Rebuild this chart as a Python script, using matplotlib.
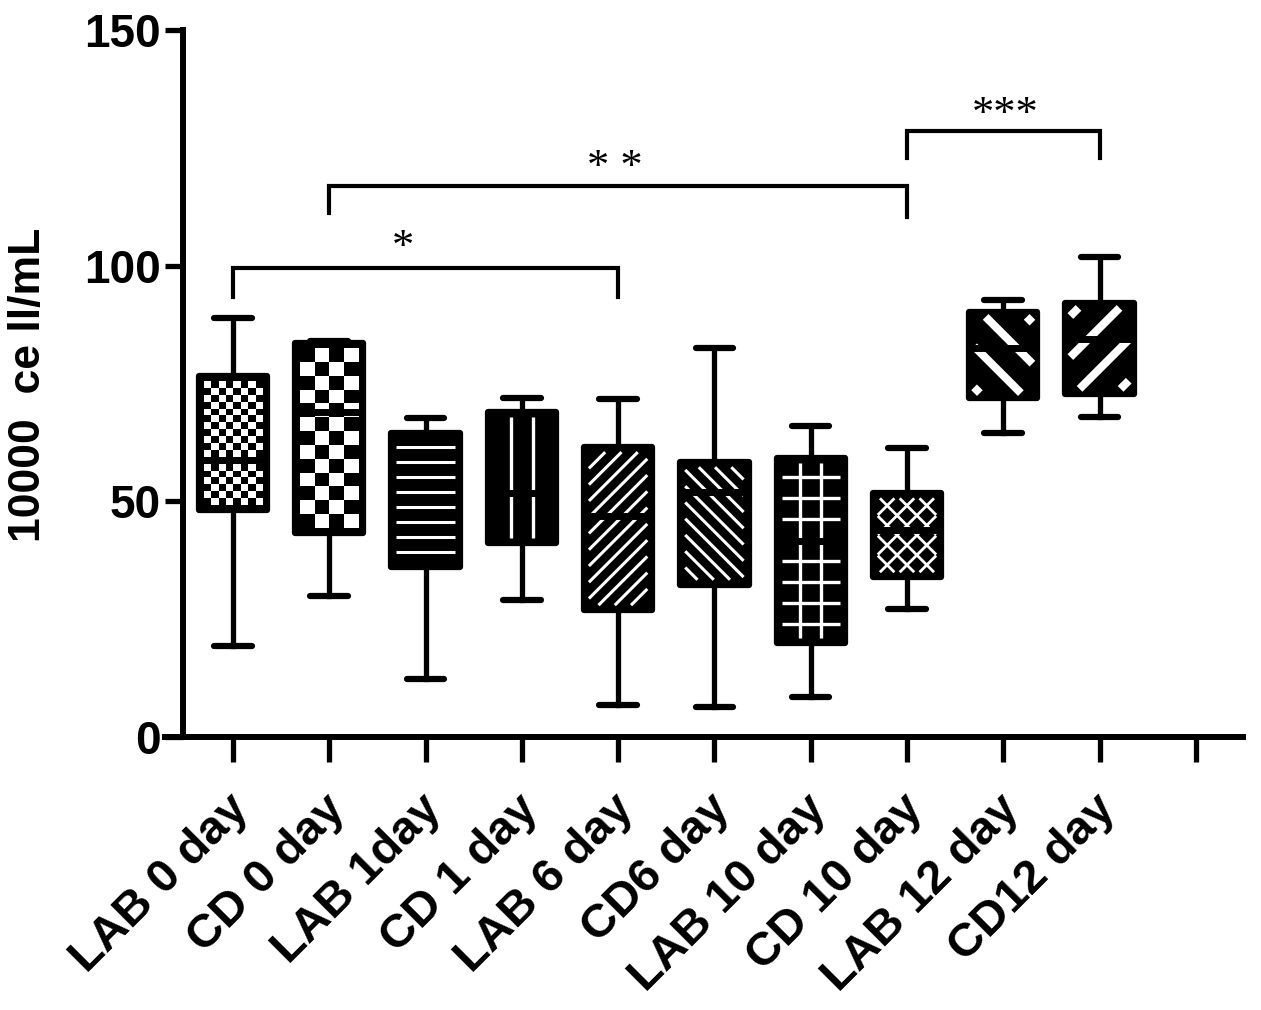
import numpy as np
import matplotlib
matplotlib.use("Agg")
import matplotlib.pyplot as plt
import matplotlib.transforms as mtransforms
from matplotlib.collections import LineCollection

plt.rcParams['font.family'] = ['Liberation Sans', 'DejaVu Sans']
plt.rcParams['font.weight'] = 'bold'

# values (10000 cell/mL)
labels = ["LAB 0 day", "CD 0 day", "LAB 1day", "CD 1 day", "LAB 6 day",
          "CD6 day", "LAB 10 day", "CD 10 day", "LAB 12 day", "CD12 day"]
whis_lo = [19.3, 29.9, 12.3, 29.0, 6.8, 6.4, 8.5, 27.2, 64.5, 67.9]
q1 = [48.2, 43.3, 36.1, 41.2, 26.9, 32.3, 19.9, 33.9, 71.9, 72.8]
med = [58.8, 69.0, 50.0, 51.8, 46.9, 52.0, 41.6, 43.9, 82.5, 84.5]
q3 = [76.6, 83.6, 64.5, 69.0, 61.5, 58.3, 59.2, 51.7, 90.2, 92.1]
whis_hi = [88.9, 84.0, 67.7, 71.9, 71.7, 82.5, 66.0, 61.3, 92.7, 101.9]

# significance brackets: left group, right group, bar height, leg ends, star text
sig_pairs = [(0, 4), (1, 7), (7, 9)]
sig_bar = [99.5, 116.9, 128.6]
sig_legs = [(93.4, 93.4), (111.2, 110.3), (122.8, 122.8)]
sig_text = ["*", "* *", "***"]
sig_text_x = [1.77, 3.97, 8.02]
sig_text_y = [103.8, 120.7, 132.0]

# fill pattern of every box (white on black)
patterns = ["checker_s", "checker_l", "hlines", "vlines", "diag_up",
            "diag_down", "grid", "cross", "wide_down", "wide_up"]

fig = plt.figure(figsize=(12.61, 10.10), dpi=100)
ax = fig.add_axes([165 / 1261, 1 - 737 / 1010, (1243 - 165) / 1261, (737 - 30) / 1010])
ax.set_xlim(-0.706, 10.49)
ax.set_ylim(0, 150)
ax.set_autoscale_on(False)

stats = []
for i in range(len(labels)):
    stats.append(dict(med=med[i], q1=q1[i], q3=q3[i], whislo=whis_lo[i],
                      whishi=whis_hi[i], fliers=[], label=labels[i]))

W = 0.71
res = ax.bxp(stats, positions=range(len(labels)), widths=W, capwidths=0.39,
             patch_artist=True, showfliers=False,
             boxprops=dict(facecolor='black', edgecolor='black', linewidth=4.5,
                           joinstyle='round'),
             whiskerprops=dict(color='black', linewidth=3.8),
             capprops=dict(color='black', linewidth=4.5, solid_capstyle='round'),
             medianprops=dict(color='black', linewidth=5, zorder=4))


def inner_rect(i, inset=5):
    """box interior in pixels, shrunk by inset"""
    (px0, py0) = ax.transData.transform((i - W / 2, q1[i]))
    (px1, py1) = ax.transData.transform((i + W / 2, q3[i]))
    return px0 + inset, py0 + inset, px1 - inset, py1 - inset


def to_data(pts):
    return ax.transData.inverted().transform(pts)


def clip_seg(a, b, x0, y0, x1, y1):
    # Liang-Barsky
    dx, dy = b[0] - a[0], b[1] - a[1]
    t0, t1 = 0.0, 1.0
    for p, q in ((-dx, a[0] - x0), (dx, x1 - a[0]), (-dy, a[1] - y0), (dy, y1 - a[1])):
        if abs(p) < 1e-12:
            if q < 0:
                return None
            continue
        r = q / p
        if p < 0:
            t0 = max(t0, r)
        else:
            t1 = min(t1, r)
    if t0 >= t1:
        return None
    return (a[0] + t0 * dx, a[1] + t0 * dy), (a[0] + t1 * dx, a[1] + t1 * dy)


def stripes(i, angle, spacing, lw, shift=0.5):
    x0, y0, x1, y1 = inner_rect(i)
    cx, cy = (x0 + x1) / 2, (y0 + y1) / 2
    th = np.radians(angle)
    d = np.array([np.cos(th), np.sin(th)])
    n = np.array([-np.sin(th), np.cos(th)])
    L = np.hypot(x1 - x0, y1 - y0)
    segs = []
    for k in np.arange(-30, 31):
        c = (k + shift) * spacing
        p = np.array([cx, cy]) + c * n
        s = clip_seg(p - L * d, p + L * d, x0, y0, x1, y1)
        if s is not None:
            segs.append(to_data(np.array(s)))
    ax.add_collection(LineCollection(segs, colors='white', linewidths=lw,
                                     capstyle='butt', zorder=3))


def checker(i, cell):
    x0, y0, x1, y1 = inner_rect(i)
    nx = max(1, int(round((x1 - x0) / cell)))
    ny = max(1, int(round((y1 - y0) / cell)))
    jj, ii = np.indices((ny, nx))
    board = (ii + jj) % 2
    dx0, dy0 = to_data([(x0, y0)])[0]
    dx1, dy1 = to_data([(x1, y1)])[0]
    ax.imshow(board, extent=(dx0, dx1, dy0, dy1), cmap='gray', vmin=0, vmax=1,
              interpolation='nearest', aspect='auto', origin='lower', zorder=3)


for i, p in enumerate(patterns):
    if p == "checker_s":
        checker(i, 7)
    elif p == "checker_l":
        checker(i, 14)
    elif p == "hlines":
        stripes(i, 0, 15, 2.2)
    elif p == "vlines":
        stripes(i, 90, 22, 2.4)
    elif p == "diag_up":
        stripes(i, 45, 11.5, 2.2)
    elif p == "diag_down":
        stripes(i, -45, 11.5, 2.2)
    elif p == "grid":
        stripes(i, 90, 21, 2.4)
        stripes(i, 0, 21, 2.4)
    elif p == "cross":
        stripes(i, 45, 14, 2.0)
        stripes(i, -45, 14, 2.0)
    elif p == "wide_down":
        stripes(i, -45, 29, 5.8)
    elif p == "wide_up":
        stripes(i, 45, 29, 5.8)

# significance brackets
for (a, b), yb, (la, lb), t, tx, ty in zip(sig_pairs, sig_bar, sig_legs,
                                           sig_text, sig_text_x, sig_text_y):
    ax.plot([a, a, b, b], [la, yb, yb, lb], color='black', lw=3,
            solid_joinstyle='miter', zorder=5)
    ax.text(tx, ty, t, ha='center', va='center', fontsize=32,
            fontweight='normal', family=['Liberation Serif'])

# axes styling
for s in ['top', 'right']:
    ax.spines[s].set_visible(False)
ax.spines['left'].set_position(('data', -0.52))
ax.spines['left'].set_linewidth(4.3)
ax.spines['bottom'].set_linewidth(4.3)
ax.spines['left'].set_capstyle('projecting')

ax.set_yticks([0, 50, 100, 150])
ax.tick_params(axis='y', direction='out', length=13, width=3.8, pad=3, labelsize=33)
ax.set_xticks(range(11))
ax.set_xticklabels(labels + [""], rotation=45, ha='right', va='center',
                   rotation_mode='anchor')
ax.tick_params(axis='x', direction='out', length=18, width=3.8, pad=29, labelsize=34)
shift = mtransforms.ScaledTranslation(0.09, 0, fig.dpi_scale_trans)
for t in ax.get_xticklabels():
    t.set_transform(t.get_transform() + shift)
for t in ax.get_yticklabels() + ax.get_xticklabels():
    t.set_fontweight('bold')

ax.set_ylabel("10000  ce ll/mL", fontsize=32, fontweight='bold')
ax.yaxis.set_label_coords(-0.108, 0.498)

ax.set_xlim(-0.706, 10.49)
ax.set_ylim(0, 150)

fig.savefig("out.png", dpi=100)
